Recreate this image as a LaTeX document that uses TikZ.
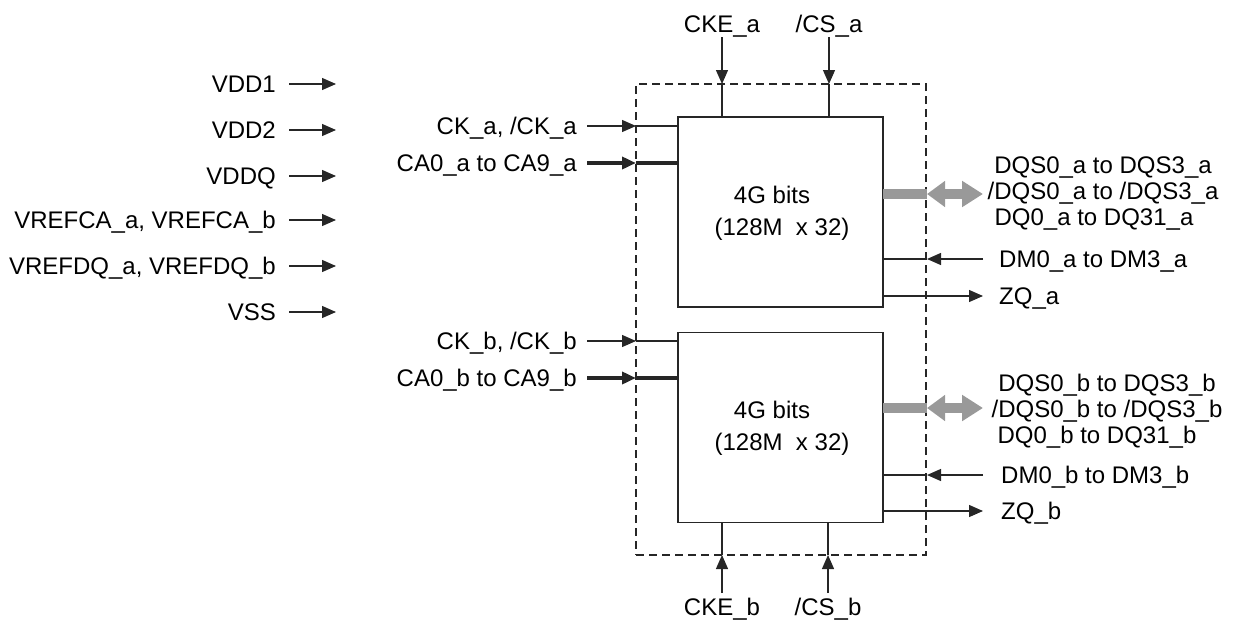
\documentclass[tikz,border=0pt]{standalone}
\usepackage{fontspec}
\setmainfont{Liberation Sans}
\usetikzlibrary{arrows.meta}
\begin{document}
\begin{tikzpicture}[x=1pt,y=-1pt,
  lbl/.style={font=\fontsize{24}{26}\selectfont, inner sep=0pt},
  wire/.style={line width=1.3pt, draw=black!85},
  bus/.style={line width=3.8pt, draw=black!85},
  arr/.style={-{Triangle[length=14pt,width=12pt]}},
  blk/.style={draw=black!85, line width=1.3pt, minimum width=205pt, minimum height=190pt, inner sep=0pt},
  gbar/.style={line width=10pt, draw=black!40},
  garr/.style={line width=10pt, draw=black!40, {Triangle[length=18pt,width=25pt]}-{Triangle[length=21pt,width=25pt]}},
  frame/.style={draw=black!85, line width=1.1pt, dash pattern=on 8pt off 5pt}
]
\useasboundingbox (0,0) rectangle (1233,621);

% dashed package outline
\node[frame, minimum width=290pt, minimum height=471pt, inner sep=0pt] (pkg) at (781,319.5) {};

% dies
\node[blk] (dieA) at (780.5,212) {};
\node[blk] (dieB) at (780.5,427.5) {};
\node[lbl, anchor=base] (tA1) at (772,203.5) {4G bits};
\node[lbl, anchor=base] (tA2) at (782,235.5) {(128M\ \ x 32)};
\node[lbl, anchor=base] (tB1) at (772,418.5) {4G bits};
\node[lbl, anchor=base] (tB2) at (782,450.5) {(128M\ \ x 32)};

% supply labels
\foreach \n/\t/\y in {v1/VDD1/84, v2/VDD2/130, v3/VDDQ/176, v4/{VREFCA\_a, VREFCA\_b}/220, v5/{VREFDQ\_a, VREFDQ\_b}/266, v6/VSS/312}{
  \node[lbl, anchor=base east] (\n) at (276,\y+8.5) {\t};
  \coordinate (\n s) at (289,\y);
  \coordinate (\n e) at (336,\y);
  \draw[wire, arr] (\n s) -- (\n e);
}

% top control inputs
\node[lbl, anchor=base] (ckea) at (722,32) {CKE\_a};
\node[lbl, anchor=base] (csa) at (829,32) {/CS\_a};
\coordinate (ckeaS) at (722,37); \coordinate (ckeaT) at (722,84); \coordinate (ckeaE) at (722,117);
\coordinate (csaS) at (829,37); \coordinate (csaT) at (829,84); \coordinate (csaE) at (829,117);
\draw[wire, arr] (ckeaS) -- (ckeaT);
\draw[wire] (ckeaT) -- (ckeaE);
\draw[wire, arr] (csaS) -- (csaT);
\draw[wire] (csaT) -- (csaE);

% bottom control inputs
\node[lbl, anchor=base] (ckeb) at (722,615) {CKE\_b};
\node[lbl, anchor=base] (csb) at (828,615) {/CS\_b};
\coordinate (ckebS) at (722,593); \coordinate (ckebT) at (722,555); \coordinate (ckebE) at (722,523);
\coordinate (csbS) at (828,593); \coordinate (csbT) at (828,555); \coordinate (csbE) at (828,523);
\draw[wire, arr] (ckebS) -- (ckebT);
\draw[wire] (ckebT) -- (ckebE);
\draw[wire, arr] (csbS) -- (csbT);
\draw[wire] (csbT) -- (csbE);

% left inputs, die a
\node[lbl, anchor=base east] (cka) at (577,134.5) {CK\_a, /CK\_a};
\node[lbl, anchor=base east] (caa) at (577,171.5) {CA0\_a to CA9\_a};
\coordinate (ckaS) at (587,126); \coordinate (ckaT) at (636,126); \coordinate (ckaE) at (678,126);
\coordinate (caaS) at (587,163); \coordinate (caaT) at (636,163); \coordinate (caaE) at (678,163);
\draw[wire, arr] (ckaS) -- (ckaT);
\draw[wire] (ckaT) -- (ckaE);
\draw[bus, arr] (caaS) -- (caaT);
\draw[bus] (caaT) -- (caaE);

% left inputs, die b
\node[lbl, anchor=base east] (ckb) at (577,349.5) {CK\_b, /CK\_b};
\node[lbl, anchor=base east] (cab) at (577,386.5) {CA0\_b to CA9\_b};
\coordinate (ckbS) at (587,341); \coordinate (ckbT) at (636,341); \coordinate (ckbE) at (678,341);
\coordinate (cabS) at (587,378); \coordinate (cabT) at (636,378); \coordinate (cabE) at (678,378);
\draw[wire, arr] (ckbS) -- (ckbT);
\draw[wire] (ckbT) -- (ckbE);
\draw[bus, arr] (cabS) -- (cabT);
\draw[bus] (cabT) -- (cabE);

% data bus, die a
\coordinate (dqaS) at (883,194); \coordinate (dqaM) at (927,194); \coordinate (dqaE) at (983,194);
\draw[gbar] (dqaS) -- (dqaM);
\draw[garr] (dqaM) -- (dqaE);
\node[lbl, anchor=base] (dqa1) at (1103,173.5) {DQS0\_a to DQS3\_a};
\node[lbl, anchor=base] (dqa2) at (1103,199.5) {/DQS0\_a to /DQS3\_a};
\node[lbl, anchor=base] (dqa3) at (1094,225.5) {DQ0\_a to DQ31\_a};

% data bus, die b
\coordinate (dqbS) at (883,408); \coordinate (dqbM) at (927,408); \coordinate (dqbE) at (983,408);
\draw[gbar] (dqbS) -- (dqbM);
\draw[garr] (dqbM) -- (dqbE);
\node[lbl, anchor=base] (dqb1) at (1107,391.5) {DQS0\_b to DQS3\_b};
\node[lbl, anchor=base] (dqb2) at (1107,417.5) {/DQS0\_b to /DQS3\_b};
\node[lbl, anchor=base] (dqb3) at (1097,443.5) {DQ0\_b to DQ31\_b};

% DM and ZQ, die a
\node[lbl, anchor=base west] (dma) at (999,267.5) {DM0\_a to DM3\_a};
\node[lbl, anchor=base west] (zqa) at (999,304.5) {ZQ\_a};
\coordinate (dmaS) at (983,259); \coordinate (dmaT) at (927,259); \coordinate (dmaE) at (883,259);
\coordinate (zqaS) at (883,296); \coordinate (zqaT) at (983,296);
\draw[wire, arr] (dmaS) -- (dmaT);
\draw[wire] (dmaT) -- (dmaE);
\draw[wire, arr] (zqaS) -- (zqaT);

% DM and ZQ, die b
\node[lbl, anchor=base west] (dmb) at (1001,483.5) {DM0\_b to DM3\_b};
\node[lbl, anchor=base west] (zqb) at (1001,519.5) {ZQ\_b};
\coordinate (dmbS) at (983,475); \coordinate (dmbT) at (927,475); \coordinate (dmbE) at (883,475);
\coordinate (zqbS) at (883,511); \coordinate (zqbT) at (983,511);
\draw[wire, arr] (dmbS) -- (dmbT);
\draw[wire] (dmbT) -- (dmbE);
\draw[wire, arr] (zqbS) -- (zqbT);
\end{tikzpicture}
\end{document}
